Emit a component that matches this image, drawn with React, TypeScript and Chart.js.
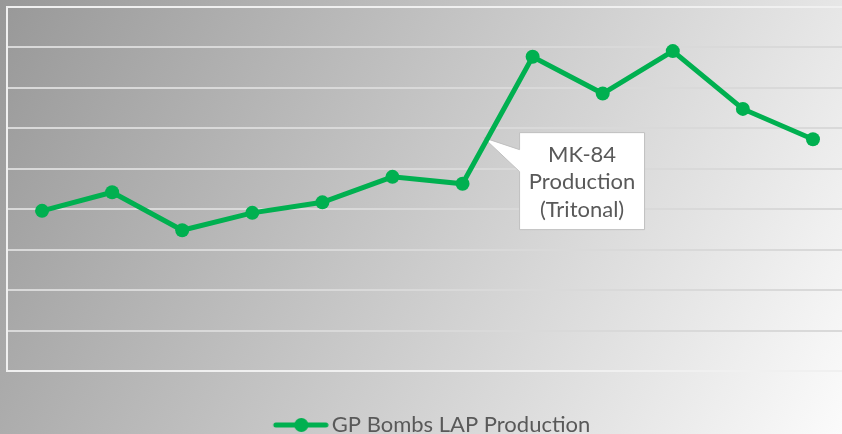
import React, { useEffect, useRef } from "react";
import { Chart, registerables } from "chart.js";

Chart.register(...registerables);

// ---- data ----
const categories = ["P1", "P2", "P3", "P4", "P5", "P6", "P7", "P8", "P9", "P10", "P11", "P12"];
const lapProduction = [3.96, 4.42, 3.48, 3.91, 4.17, 4.8, 4.63, 7.77, 6.86, 7.91, 6.48, 5.73];
const seriesLabel = "GP Bombs LAP Production";
const yMin = 0;
const yMax = 9;
const yStep = 1;
const calloutLines = ["MK-84", "Production", "(Tritonal)"];
const calloutAnchorIndex = 6.3;
const calloutAnchorValue = 5.77;

const GREEN = "#00b050";
const TEXT = "#595959";
const FONT = "Lato, 'Open Sans', sans-serif";

function makeLegendImage(): HTMLCanvasElement {
  const c = document.createElement("canvas");
  c.width = 65;
  c.height = 16;
  const ctx = c.getContext("2d")!;
  ctx.strokeStyle = GREEN;
  ctx.lineWidth = 5;
  ctx.lineCap = "round";
  ctx.beginPath();
  ctx.moveTo(12, 8);
  ctx.lineTo(62, 8);
  ctx.stroke();
  ctx.fillStyle = GREEN;
  ctx.beginPath();
  ctx.arc(37.5, 8, 7, 0, Math.PI * 2);
  ctx.fill();
  return c;
}

const calloutPlugin = {
  id: "callout",
  beforeDatasetsDraw(chart: any) {
    const xs = chart.scales.x;
    const ys = chart.scales.y;
    const i0 = Math.floor(calloutAnchorIndex);
    const f = calloutAnchorIndex - i0;
    const tx = xs.getPixelForValue(i0) + f * (xs.getPixelForValue(i0 + 1) - xs.getPixelForValue(i0));
    const ty = ys.getPixelForValue(calloutAnchorValue);
    const left = tx + 36;
    const top = ty - 5;
    const w = 125;
    const h = 97;
    const ctx = chart.ctx;
    ctx.save();
    ctx.beginPath();
    ctx.moveTo(left, top);
    ctx.lineTo(left + w, top);
    ctx.lineTo(left + w, top + h);
    ctx.lineTo(left, top + h);
    ctx.lineTo(left, top + 39);
    ctx.lineTo(tx, ty);
    ctx.lineTo(left, top + 17);
    ctx.closePath();
    ctx.fillStyle = "#ffffff";
    ctx.fill();
    ctx.strokeStyle = "#bfbfbf";
    ctx.lineWidth = 1;
    ctx.stroke();
    ctx.fillStyle = TEXT;
    ctx.font = `22px ${FONT}`;
    ctx.textAlign = "center";
    ctx.textBaseline = "alphabetic";
    const cx = left + w / 2;
    const cy = top + h / 2;
    calloutLines.forEach((line, i) => {
      ctx.fillText(line, cx, cy + 8 + (i - 1) * 27.5);
    });
    ctx.restore();
  },
};

export default function App() {
  const ref = useRef<HTMLCanvasElement>(null);
  useEffect(() => {
    if (!ref.current) return;
    const legendImg = makeLegendImage();
    const chart = new Chart(ref.current, {
      type: "line",
      data: {
        labels: categories,
        datasets: [
          {
            label: seriesLabel,
            data: lapProduction,
            borderColor: GREEN,
            backgroundColor: GREEN,
            borderWidth: 5,
            pointRadius: 7,
            pointBorderWidth: 0,
            pointBackgroundColor: GREEN,
            tension: 0,
            fill: false,
          },
        ],
      },
      options: {
        responsive: false,
        animation: false,
        layout: { padding: { left: 7, top: 2, right: 0, bottom: 0 } },
        scales: {
          x: {
            display: false,
            offset: true,
          },
          y: {
            min: yMin,
            max: yMax,
            ticks: { display: false, stepSize: yStep },
            grid: {
              drawTicks: false,
              lineWidth: 2,
              color: (c: any) =>
                c.tick && (c.tick.value === yMin || c.tick.value === yMax) ? "#f0f0f0" : "#d9d9d9",
            },
            border: { display: true, color: "#f0f0f0", width: 2 },
          },
        },
        plugins: {
          tooltip: { enabled: false },
          legend: {
            position: "bottom",
            labels: {
              usePointStyle: true,
              pointStyle: legendImg as any,
              pointStyleWidth: 49,
              padding: 43,
              color: TEXT,
              font: { family: FONT, size: 22 },
            },
          },
        },
      },
      plugins: [calloutPlugin],
    });
    return () => chart.destroy();
  }, []);

  return (
    <div
      style={{
        position: "fixed",
        left: 0,
        top: 0,
        width: 842,
        height: 434,
        overflow: "hidden",
        background: "linear-gradient(117deg, #989898 0%, #fbfbfb 100%)",
      }}
    >
      <canvas ref={ref} width={855} height={446} style={{ display: "block", width: 855, height: 446 }} />
    </div>
  );
}
